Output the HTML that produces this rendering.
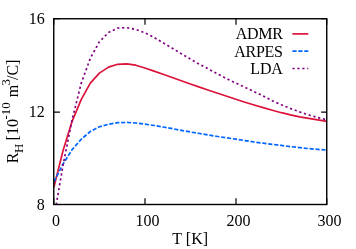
<!DOCTYPE html>
<html>
<head>
<meta charset="utf-8">
<title>R_H vs T</title>
<style>
html,body{margin:0;padding:0;background:#fff;}
body{width:356px;height:249px;overflow:hidden;}
svg{display:block;}
text{font-family:"Liberation Serif",serif;font-size:16px;fill:#000;}
</style>
</head>
<body>
<svg width="356" height="249" viewBox="0 0 356 249">
<rect x="0" y="0" width="356" height="249" fill="#ffffff"/>
<defs><filter id="gray" x="0" y="0" width="356" height="249" filterUnits="userSpaceOnUse" color-interpolation-filters="sRGB"><feColorMatrix type="saturate" values="0"/></filter><clipPath id="plot"><rect x="53.9" y="18.8" width="273" height="185.7"/></clipPath></defs>
<!-- ticks -->
<g stroke="#000" stroke-width="1.2" fill="none">
<path d="M53.75,204.5H59.9 M326.75,204.5H321.15 M53.75,112.1H59.9 M326.75,112.1H321.15 M53.75,18.75H59.9 M326.75,18.75H321.15"/>
<path d="M53.75,204.5V198.2 M53.75,18.75V24.8 M145.0,204.5V198.2 M145.0,18.75V24.8 M236.0,204.5V198.2 M236.0,18.75V24.8 M326.75,204.5V198.2 M326.75,18.75V24.8"/>
</g>
<!-- curves -->
<g clip-path="url(#plot)" fill="none" stroke-width="1.7" stroke-linejoin="round">
<path d="M53.90,187.20 L63.00,150.80 L72.10,121.30 L81.20,99.60 L90.30,83.10 L99.40,73.10 L108.50,67.10 L117.60,64.30 L126.70,63.80 L135.80,65.20 L144.90,68.00 L154.00,71.10 L163.10,74.20 L172.20,77.50 L181.30,80.70 L190.40,84.00 L199.50,87.10 L208.60,90.30 L217.70,93.30 L226.80,96.20 L235.90,99.20 L245.00,102.20 L254.10,105.00 L263.20,107.60 L272.30,110.20 L281.40,112.70 L290.50,114.90 L299.60,116.80 L308.70,118.40 L317.80,119.90 L326.90,121.40" stroke="#dc143c"/>
<path d="M53.90,181.80 L63.00,164.20 L72.10,149.60 L81.20,139.30 L90.30,131.50 L99.40,126.80 L108.50,124.20 L117.60,122.70 L126.70,122.45 L135.80,123.00 L144.90,124.10 L154.00,125.50 L163.10,127.00 L172.20,128.60 L181.30,130.40 L190.40,132.00 L199.50,133.50 L208.60,135.00 L217.70,136.50 L226.80,137.80 L235.90,139.20 L245.00,140.60 L254.10,142.00 L263.20,143.20 L272.30,144.30 L281.40,145.45 L290.50,146.60 L299.60,147.60 L308.70,148.60 L317.80,149.40 L326.90,150.10" stroke="#0066ff" stroke-dasharray="4.2 1.75"/>
<path d="M56.27,204.50 L63.00,165.50 L72.10,119.80 L81.20,83.30 L90.30,58.40 L99.40,41.70 L108.50,32.50 L117.60,28.10 L126.70,27.65 L135.80,29.40 L144.90,32.80 L154.00,37.40 L163.10,42.80 L172.20,48.20 L181.30,53.70 L190.40,59.10 L199.50,64.30 L208.60,69.10 L217.70,74.00 L226.80,78.80 L235.90,83.10 L245.00,87.30 L254.10,91.60 L263.20,96.00 L272.30,100.80 L281.40,104.80 L290.50,108.50 L299.60,111.90 L308.70,114.90 L317.80,117.50 L326.90,119.80" stroke="#800080" stroke-dasharray="2.2 2.73" stroke-dashoffset="0.3"/>
</g>
<!-- legend samples -->
<g fill="none" stroke-width="1.7">
<path d="M292.4,33.9H308.3" stroke="#dc143c"/>
<path d="M292.4,51.2H308.3" stroke="#0066ff" stroke-dasharray="4.2 1.75"/>
<path d="M292.4,68.5H308.3" stroke="#800080" stroke-dasharray="2.2 2.75"/>
</g>
<!-- frame -->
<rect x="53.75" y="18.75" width="273" height="185.75" fill="none" stroke="#000" stroke-width="1.4"/>
<g filter="url(#gray)">
<!-- y tick labels -->
<g text-anchor="end">
<text x="44.8" y="24.2">16</text>
<text x="44.8" y="117.2">12</text>
<text x="44.8" y="210">8</text>
</g>
<!-- x tick labels -->
<g text-anchor="middle">
<text x="56" y="226.3">0</text>
<text x="147.5" y="226.3">100</text>
<text x="238.5" y="226.3">200</text>
<text x="329.5" y="226.3">300</text>
</g>
<text x="190.2" y="243.9" text-anchor="middle">T [K]</text>
<!-- legend labels -->
<g text-anchor="end">
<text x="282.6" y="39.0" letter-spacing="-0.3">ADMR</text>
<text x="282.6" y="56.6" letter-spacing="-0.3">ARPES</text>
<text x="282.6" y="73.7" letter-spacing="-0.22">LDA</text>
</g>
<!-- y label -->
<g transform="translate(18.4,163.3) rotate(-90)">
<text x="0" y="0">R</text>
<text x="10.4" y="4.5" style="font-size:13.5px" textLength="9.3" lengthAdjust="spacingAndGlyphs">H</text>
<text x="22.9" y="0">[10</text>
<text x="43.9" y="-8.1" style="font-size:13.5px" textLength="17.1" lengthAdjust="spacingAndGlyphs">-10</text>
<text x="66.1" y="0">m</text>
<text x="77.8" y="-8.1" style="font-size:13.5px" textLength="6.4" lengthAdjust="spacingAndGlyphs">3</text>
<text x="83.3" y="0">/C]</text>
</g>
</g>
</svg>
</body>
</html>
